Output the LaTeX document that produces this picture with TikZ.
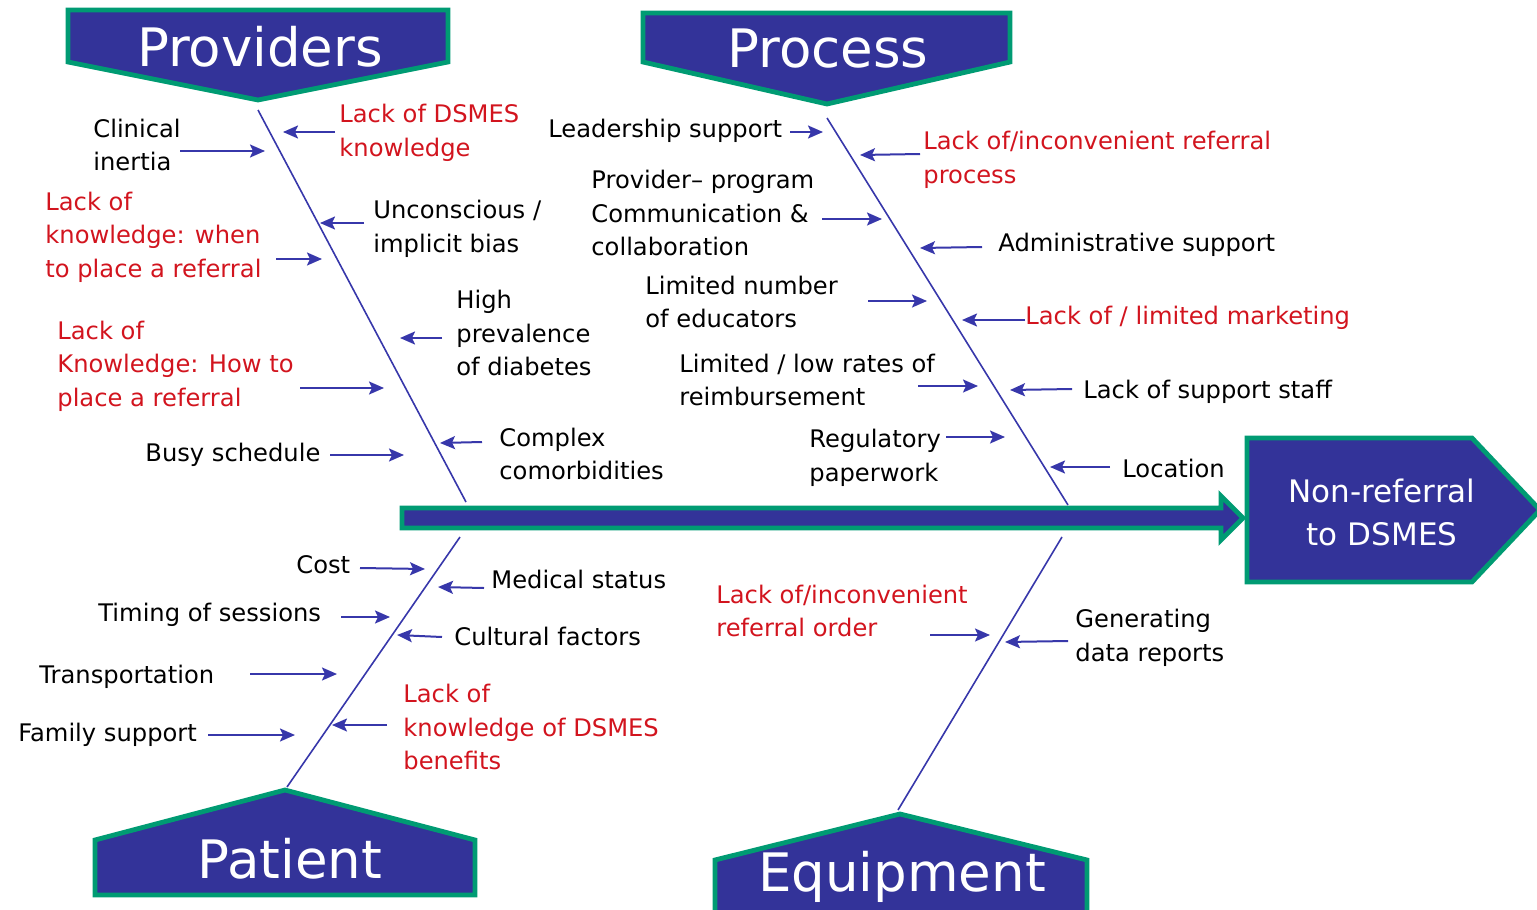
\documentclass[tikz,border=0pt]{standalone}
\usepackage{fontspec}
\setmainfont{DejaVu Sans}
\usetikzlibrary{arrows.meta}
\definecolor{hdrblue}{RGB}{51,51,153}
\definecolor{hdrgreen}{RGB}{0,155,115}
\definecolor{linkblue}{RGB}{55,55,170}
\definecolor{causered}{RGB}{210,20,30}
\newcommand\sarrow[5]{\coordinate (#1s) at (#2,#3); \coordinate (#1e) at (#4,#5); \draw[sarr] (#1s) -- (#1e);}
\begin{document}
\begin{tikzpicture}[x=0.5pt,y=-0.5pt,
  lbl/.style={anchor=west,inner sep=0pt,align=left,font=\fontsize{12.1}{16.7}\selectfont,text=black},
  redlbl/.style={lbl,text=causered},
  sarr/.style={draw=linkblue,line width=1pt,-{Stealth[length=7.5pt,width=6.5pt,inset=1.5pt]}},
  bone/.style={draw=linkblue,line width=0.8pt},
  hdr/.style={fill=hdrblue,draw=hdrgreen,line width=2.4pt,line join=miter},
  hdrtxt/.style={text=white,font=\fontsize{26.5}{30}\selectfont,inner sep=0pt},
  efftxt/.style={text=white,align=center,font=\fontsize{15.5}{21.5}\selectfont,inner sep=0pt}]
\useasboundingbox (0,0) rectangle (1537,910);
\clip (0,0) rectangle (1537,910);

% category headers
\draw[hdr] (68,10) -- (448,10) -- (448,62) -- (258,100) -- (68,62) -- cycle;
\node[hdrtxt] (providers) at (260,47) {Providers};
\draw[hdr] (643,13) -- (1010,13) -- (1010,62) -- (827,104) -- (643,62) -- cycle;
\node[hdrtxt] (process) at (828,49) {Process};
\draw[hdr] (95,895) -- (475,895) -- (475,840) -- (285,790) -- (95,840) -- cycle;
\node[hdrtxt] (patient) at (290,859) {Patient};
\draw[hdr] (715,925) -- (1087,925) -- (1087,860) -- (900,814) -- (715,860) -- cycle;
\node[hdrtxt] (equipment) at (902,877) {Equipment};

% effect
\draw[hdr] (1247,438) -- (1472,438) -- (1540,510) -- (1472,582) -- (1247,582) -- cycle;
\node[efftxt] (effect) at (1382,512) {Non-referral\\to DSMES};

% spine
\draw[hdr] (402,508) -- (1221,508) -- (1221,496) -- (1243,518) -- (1221,540) -- (1221,528) -- (402,528) -- cycle;

% bones
\coordinate (pvT) at (258,110); \coordinate (pvB) at (466,502);
\coordinate (prT) at (827,118); \coordinate (prB) at (1068,505);
\coordinate (paT) at (460,537); \coordinate (paB) at (287,787);
\coordinate (eqT) at (1062,537); \coordinate (eqB) at (898,810);
\draw[bone] (pvT) -- (pvB);
\draw[bone] (prT) -- (prB);
\draw[bone] (paT) -- (paB);
\draw[bone] (eqT) -- (eqB);

% Providers causes
\node[lbl] (clin) at (93,145) {Clinical\\inertia};
\sarrow{a1}{180}{151}{265}{151}
\node[redlbl] (ldk) at (339,133) {Lack of DSMES\\knowledge};
\sarrow{a2}{335}{132}{283}{132}
\node[redlbl] (lkw) at (45,237) {Lack of\\knowledge: when\\to place a referral};
\sarrow{a3}{276}{259}{322}{259}
\node[lbl] (unc) at (373,229) {Unconscious /\\implicit bias};
\sarrow{a4}{364}{223}{320}{223}
\node[lbl] (hp) at (456,333) {High\\prevalence\\of diabetes};
\sarrow{a5}{442}{338}{400}{338}
\node[redlbl] (lkh) at (57,366) {Lack of\\Knowledge: How to\\place a referral};
\sarrow{a6}{300}{388}{384}{388}
\node[lbl] (busy) at (145,455) {Busy schedule};
\sarrow{a7}{330}{455}{404}{455}
\node[lbl] (comp) at (499,454) {Complex\\comorbidities};
\sarrow{a8}{482}{442}{440}{443}

% Process causes
\node[lbl] (lead) at (548,131) {Leadership support};
\sarrow{b1}{790}{132}{823}{132}
\node[redlbl] (lir) at (923,160) {Lack of/inconvenient referral\\process};
\sarrow{b2}{920}{154}{860}{155}
\node[lbl] (ppc) at (591,213) {Provider– program\\Communication \&\\collaboration};
\sarrow{b3}{822}{219}{882}{219}
\node[lbl] (adm) at (998,245) {Administrative support};
\sarrow{b4}{982}{247}{920}{248}
\node[lbl] (lne) at (645,302) {Limited number\\of educators};
\sarrow{b5}{868}{301}{927}{301}
\node[redlbl] (llm) at (1025,318) {Lack of / limited marketing};
\sarrow{b6}{1025}{320}{962}{320}
\node[lbl] (lrr) at (679,380) {Limited / low rates of\\reimbursement};
\sarrow{b7}{918}{386}{978}{386}
\node[lbl] (lss) at (1083,392) {Lack of support staff};
\sarrow{b8}{1072}{389}{1010}{390}
\node[lbl] (reg) at (809,458) {Regulatory\\paperwork};
\sarrow{b9}{946}{437}{1005}{437}
\node[lbl] (loc) at (1122,468) {Location};
\sarrow{b10}{1110}{467}{1050}{467}

% Patient causes
\node[lbl] (cost) at (296,565) {Cost};
\sarrow{c1}{360}{568}{425}{569}
\node[lbl] (med) at (491,579) {Medical status};
\sarrow{c2}{484}{588}{438}{587}
\node[lbl] (tim) at (98,615) {Timing of sessions};
\sarrow{c3}{341}{617}{390}{617}
\node[lbl] (cult) at (454,636) {Cultural factors};
\sarrow{c4}{442}{637}{397}{635}
\node[lbl] (trans) at (39,677) {Transportation};
\sarrow{c5}{250}{674}{337}{674}
\node[redlbl] (lkb) at (403,727) {Lack of\\knowledge of DSMES\\benefits};
\sarrow{c6}{387}{725}{332}{725}
\node[lbl] (fam) at (18,735) {Family support};
\sarrow{c7}{208}{735}{295}{735}

% Equipment causes
\node[redlbl] (lio) at (716,611) {Lack of/inconvenient\\referral order};
\sarrow{d1}{930}{635}{990}{635}
\node[lbl] (gdr) at (1075,638) {Generating\\data reports};
\sarrow{d2}{1068}{641}{1005}{642}
\end{tikzpicture}
\end{document}
